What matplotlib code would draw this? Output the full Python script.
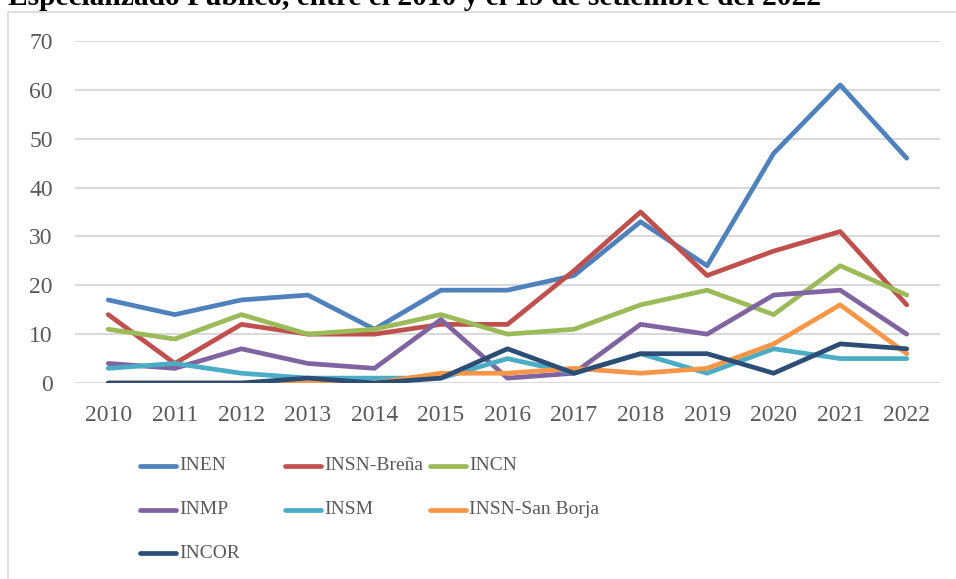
import matplotlib
matplotlib.use("Agg")
import matplotlib.pyplot as plt
from matplotlib.lines import Line2D
from matplotlib.patches import Rectangle

years = ["2010", "2011", "2012", "2013", "2014", "2015", "2016",
         "2017", "2018", "2019", "2020", "2021", "2022"]
series_names = ["INEN", "INSN-Breña", "INCN", "INMP", "INSM",
                "INSN-San Borja", "INCOR"]
inen = [17, 14, 17, 18, 11, 19, 19, 22, 33, 24, 47, 61, 46]
insn_brena = [14, 4, 12, 10, 10, 12, 12, 23, 35, 22, 27, 31, 16]
incn = [11, 9, 14, 10, 11, 14, 10, 11, 16, 19, 14, 24, 18]
inmp = [4, 3, 7, 4, 3, 13, 1, 2, 12, 10, 18, 19, 10]
insm = [3, 4, 2, 1, 1, 1, 5, 2, 6, 2, 7, 5, 5]
insn_san_borja = [0, 0, 0, 0, 0, 2, 2, 3, 2, 3, 8, 16, 6]
incor = [0, 0, 0, 1, 0, 1, 7, 2, 6, 6, 2, 8, 7]
y_ticks = [0, 10, 20, 30, 40, 50, 60, 70]
title = "Especializado Público, entre el 2010 y el 19 de setiembre del 2022"

all_series = [inen, insn_brena, incn, inmp, insm, insn_san_borja, incor]
colors = ["#4F81BD", "#C0504D", "#9BBB59", "#8064A2", "#4BACC6",
          "#F79646", "#2C4D75"]

W, H = 956, 579
fig = plt.figure(figsize=(W / 100, H / 100), dpi=100)
fig.patch.set_facecolor("white")

# chart frame
fig.add_artist(Rectangle((8 / W, -0.2), 1.2, 1.2 - 12 / H,
                         transform=fig.transFigure, fill=False,
                         edgecolor="#d9d9d9", lw=1.2))

# title (cut off at the top edge, as in the reference)
fig.text(8 / W, 1 - 5 / H, title, ha="left", va="baseline",
         fontsize=21.2, fontweight="bold", family="Liberation Serif",
         color="black")

ax = fig.add_axes([75 / W, 1 - 383 / H, (940 - 75) / W, (383 - 41) / H])
x = list(range(len(years)))
for vals, c, name in zip(all_series, colors, series_names):
    ax.plot(x, vals, color=c, lw=3.4, solid_capstyle="round",
            solid_joinstyle="round", label=name, zorder=3)

ax.set_xlim(-0.5, len(years) - 0.5)
ax.set_ylim(0, 70)
ax.set_yticks(y_ticks)
ax.set_xticks(x)
ax.set_xticklabels(years)
for s in ax.spines.values():
    s.set_visible(False)
ax.grid(axis="y", color="#d9d9d9", lw=1.5, zorder=0)
ax.set_axisbelow(True)
ax.tick_params(axis="both", length=0, labelcolor="#595959", labelsize=17)
ax.tick_params(axis="y", pad=16)
ax.tick_params(axis="x", pad=16)
for lab in ax.get_xticklabels() + ax.get_yticklabels():
    lab.set_family("Liberation Serif")

# legend (Excel style, equal column spacing)
col_x = [140, 285, 430]
row_y = [466, 510, 553]
for i, (name, c) in enumerate(zip(series_names, colors)):
    cx = col_x[i % 3]
    cy = row_y[i // 3]
    fig.add_artist(Line2D([cx / W, (cx + 36) / W], [1 - cy / H, 1 - cy / H],
                          transform=fig.transFigure, color=c, lw=3.4,
                          solid_capstyle="round"))
    fig.text((cx + 39) / W, 1 - cy / H, name, ha="left", va="center",
             fontsize=14, family="Liberation Serif", color="#595959")

fig.savefig("out.png", dpi=100)
